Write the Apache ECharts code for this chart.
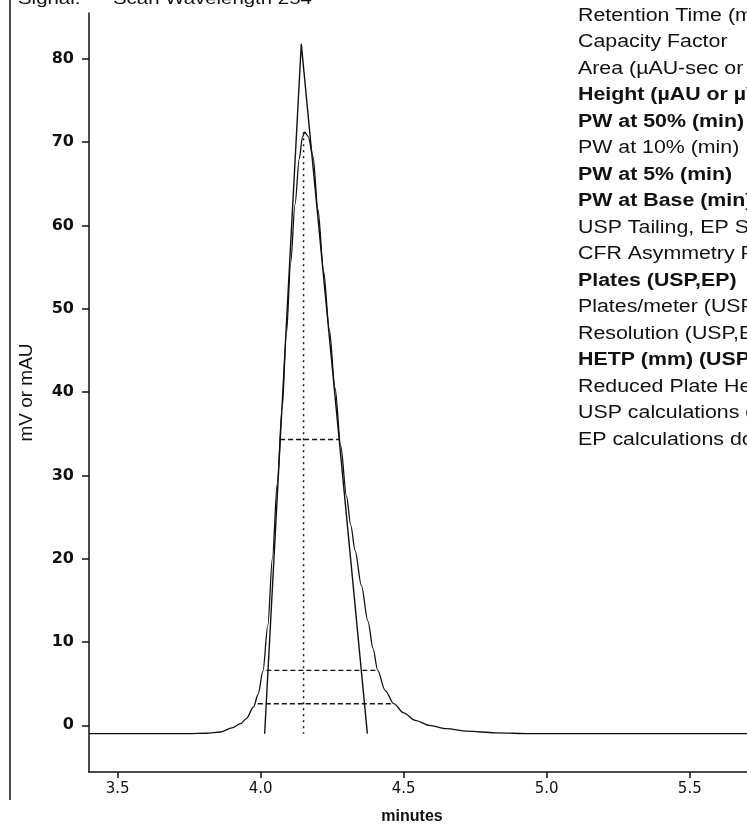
<!DOCTYPE html>
<html>
<head>
<meta charset="utf-8">
<script src="https://cdn.jsdelivr.net/npm/echarts@6.0.0/dist/echarts.min.js"></script>
<style>
  html, body { margin: 0; padding: 0; background: #ffffff; }
  #chart { width: 747px; height: 830px; }
</style>
</head>
<body>
<div id="chart"></div>
<script>
// Detector trace: time (min) and signal (mV or mAU)
const traceTime = [
  3.40, 3.60, 3.75, 3.81, 3.86, 3.90, 3.93, 3.95, 3.975, 3.991,
  4.008, 4.025, 4.041, 4.058, 4.075, 4.09, 4.105, 4.12, 4.135, 4.146,
  4.154, 4.166, 4.183, 4.20, 4.22, 4.24, 4.26, 4.28, 4.30, 4.315,
  4.33, 4.352, 4.375, 4.393, 4.409, 4.435, 4.465, 4.50, 4.54, 4.59,
  4.65, 4.72, 4.82, 4.95, 5.20, 5.70
];
const traceSignal = [
  -1.0, -1.0, -1.0, -0.95, -0.8, -0.3, 0.2, 0.8, 2.2, 3.7,
  6.5, 12.0, 20.0, 29.0, 38.0, 47.0, 55.5, 62.5, 68.0, 70.6,
  71.2, 70.7, 68.3, 62.0, 54.5, 47.5, 40.5, 33.5, 27.5, 24.0,
  21.0, 16.8, 12.5, 9.2, 6.6, 4.2, 2.6, 1.5, 0.6, 0.0,
  -0.4, -0.7, -0.9, -1.0, -1.0, -1.0
];

// Tangent triangle: left base, intersection, right base
const tangentTime = [4.014, 4.142, 4.373];
const tangentSignal = [-1.0, 81.8, -1.0];

// Peak width measurements at 50 %, 10 % and 5 % of height
const widthLevel = [34.3, 6.6, 2.6];
const widthStart = [4.068, 4.02, 3.99];
const widthEnd = [4.274, 4.409, 4.465];

// Retention time marker
const retentionTime = 4.15;
const apexSignal = 71.2;
const baselineSignal = -1.0;

// Axis ticks
const xTicks = [3.5, 4.0, 4.5, 5.0, 5.5];
const yTicks = [0, 10, 20, 30, 40, 50, 60, 70, 80];

// Results table row captions
const resultLabels = [
  'Retention Time (min)', 'Capacity Factor', 'Area (\u00b5AU-sec or \u00b5V-sec)',
  'Height (\u00b5AU or \u00b5V)', 'PW at 50% (min)', 'PW at 10% (min)',
  'PW at 5% (min)', 'PW at Base (min)', 'USP Tailing, EP Symmetry',
  'CFR Asymmetry Factor', 'Plates (USP,EP)', 'Plates/meter (USP,EP)',
  'Resolution (USP,EP)', 'HETP (mm) (USP,EP)', 'Reduced Plate Height',
  'USP calculations done', 'EP calculations done'
];
const resultBold = [false, false, false, true, true, false, true, true, false,
                    false, true, false, false, true, false, false, false];

const ink = '#111111';
const chart = echarts.init(document.getElementById('chart'), null, { renderer: 'canvas' });

const pairs = (xs, ys) => xs.map((x, i) => [x, ys[i]]);

const series = [
  {
    name: 'trace', type: 'line', data: pairs(traceTime, traceSignal),
    showSymbol: false, smooth: 0.3, smoothMonotone: 'x',
    lineStyle: { color: ink, width: 1.3 }, z: 3, silent: true
  },
  {
    name: 'tangents', type: 'line', data: pairs(tangentTime, tangentSignal),
    showSymbol: false, lineStyle: { color: ink, width: 1.4 }, z: 4, silent: true
  },
  {
    name: 'retention', type: 'line',
    data: [[retentionTime, apexSignal], [retentionTime, baselineSignal]],
    showSymbol: false, lineStyle: { color: ink, width: 1.5, type: [2, 4] }, z: 2, silent: true
  }
];
widthLevel.forEach((lvl, i) => {
  series.push({
    name: 'width' + i, type: 'line',
    data: [[widthStart[i], lvl], [widthEnd[i], lvl]],
    showSymbol: false, lineStyle: { color: ink, width: 1.4, type: [5, 3] }, z: 2, silent: true
  });
});

// Results text block on the right, slightly widened like the printout
const textGraphics = resultLabels.map((label, i) => ({
  type: 'text', x: 578, y: 16 + i * 26.5, scaleX: 1.22, scaleY: 1,
  style: {
    text: label, x: 0, y: 0, fill: ink,
    font: (resultBold[i] ? 'bold ' : '') + '17.5px "Liberation Sans", Arial, sans-serif',
    verticalAlign: 'middle', align: 'left'
  }
}));

chart.setOption({
  animation: false,
  backgroundColor: '#ffffff',
  grid: { left: 89, top: 13, width: 679, height: 762, containLabel: false },
  xAxis: {
    type: 'value', min: 3.40, max: 5.70,
    name: 'minutes', nameLocation: 'middle', nameGap: 37,
    nameTextStyle: { color: ink, fontSize: 16, fontWeight: 'bold', fontFamily: 'Liberation Sans', padding: [0, 12, 0, 0] },
    axisLine: { show: true, onZero: false, lineStyle: { color: ink, width: 1.5 } },
    axisTick: { show: true, length: 6, customValues: xTicks, lineStyle: { color: ink, width: 1.5 } },
    axisLabel: {
      customValues: xTicks, margin: 10, color: ink, fontSize: 15,
      fontFamily: 'DejaVu Sans', formatter: v => v.toFixed(1)
    },
    splitLine: { show: false }
  },
  yAxis: {
    type: 'value', min: -5.6, max: 85.5,
    name: 'mV or mAU', nameLocation: 'middle', nameGap: 53, nameRotate: 90,
    nameTextStyle: { color: ink, fontSize: 19, fontFamily: 'Liberation Sans' },
    axisLine: { show: true, onZero: false, lineStyle: { color: ink, width: 1.5 } },
    axisTick: { show: true, length: 7, customValues: yTicks, lineStyle: { color: ink, width: 1.5 } },
    axisLabel: {
      customValues: yTicks, margin: 15, color: ink, fontSize: 16, fontWeight: 'bold',
      fontFamily: 'DejaVu Sans'
    },
    splitLine: { show: false }
  },
  graphic: [
    { type: 'line', shape: { x1: 10, y1: 0, x2: 10, y2: 800 }, style: { stroke: ink, lineWidth: 1.5 }, silent: true },
    { type: 'text', x: 18, y: 8, scaleX: 1.2, style: { text: 'Signal:', fill: ink, font: '17px "Liberation Sans", Arial', verticalAlign: 'bottom' } },
    { type: 'text', x: 113, y: 8, scaleX: 1.2, style: { text: 'Scan Wavelength 254', fill: ink, font: '17px "Liberation Sans", Arial', verticalAlign: 'bottom' } }
  ].concat(textGraphics),
  series: series
});
</script>
</body>
</html>
